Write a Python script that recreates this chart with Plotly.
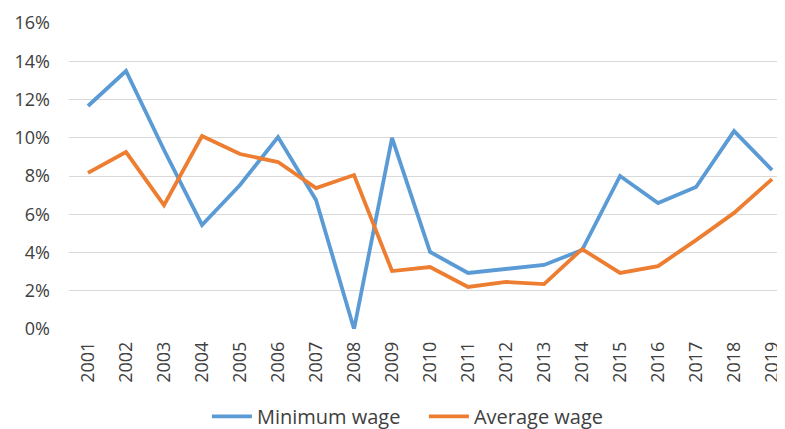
import plotly.graph_objects as go

years = [str(y) for y in range(2001, 2020)]
minimum_wage = [11.66, 13.49, 9.36, 5.44, 7.53, 10.04, 6.75, 0.0, 9.99, 4.03,
                2.93, 3.14, 3.35, 4.13, 8.0, 6.59, 7.42, 10.35, 8.31]
average_wage = [8.16, 9.25, 6.48, 10.09, 9.15, 8.73, 7.37, 8.05, 3.03, 3.24,
                2.20, 2.46, 2.35, 4.18, 2.93, 3.29, 4.65, 6.07, 7.84]
y_ticks = [0, 2, 4, 6, 8, 10, 12, 14, 16]

fig = go.Figure()
fig.add_trace(go.Scatter(x=years, y=minimum_wage, mode="lines", name="Minimum wage",
                         line=dict(color="#5B9BD5", width=3.8)))
fig.add_trace(go.Scatter(x=years, y=average_wage, mode="lines", name="Average wage",
                         line=dict(color="#ED7D31", width=3.8)))

font = dict(family="Open Sans, Noto Sans, sans-serif", size=18, color="#404040")
fig.update_layout(
    width=777, height=421,
    margin=dict(l=61, r=0, t=15, b=100),
    plot_bgcolor="white", paper_bgcolor="white",
    font=font,
    showlegend=True,
    legend=dict(orientation="h", xref="container", yref="container",
                x=0.256, xanchor="left", y=0.03, yanchor="middle",
                font=dict(family="Open Sans, Noto Sans, sans-serif", size=20, color="#404040"),
                itemwidth=40, tracegroupgap=0, entrywidth=162, entrywidthmode="pixels"),
    xaxis=dict(type="category", range=[-0.5, 18.34], tickangle=-90,
               showgrid=False, showline=False, ticks="", tickfont=font,
               ticklabelstandoff=8, automargin=False),
    yaxis=dict(range=[0, 16], tickvals=y_ticks,
               ticktext=[f"{v}%" for v in y_ticks],
               showgrid=True, gridcolor="#D9D9D9", gridwidth=1.3,
               zeroline=False, showline=False, ticks="", tickfont=font,
               ticklabelstandoff=18, automargin=False),
)
fig.write_html("out.html")
